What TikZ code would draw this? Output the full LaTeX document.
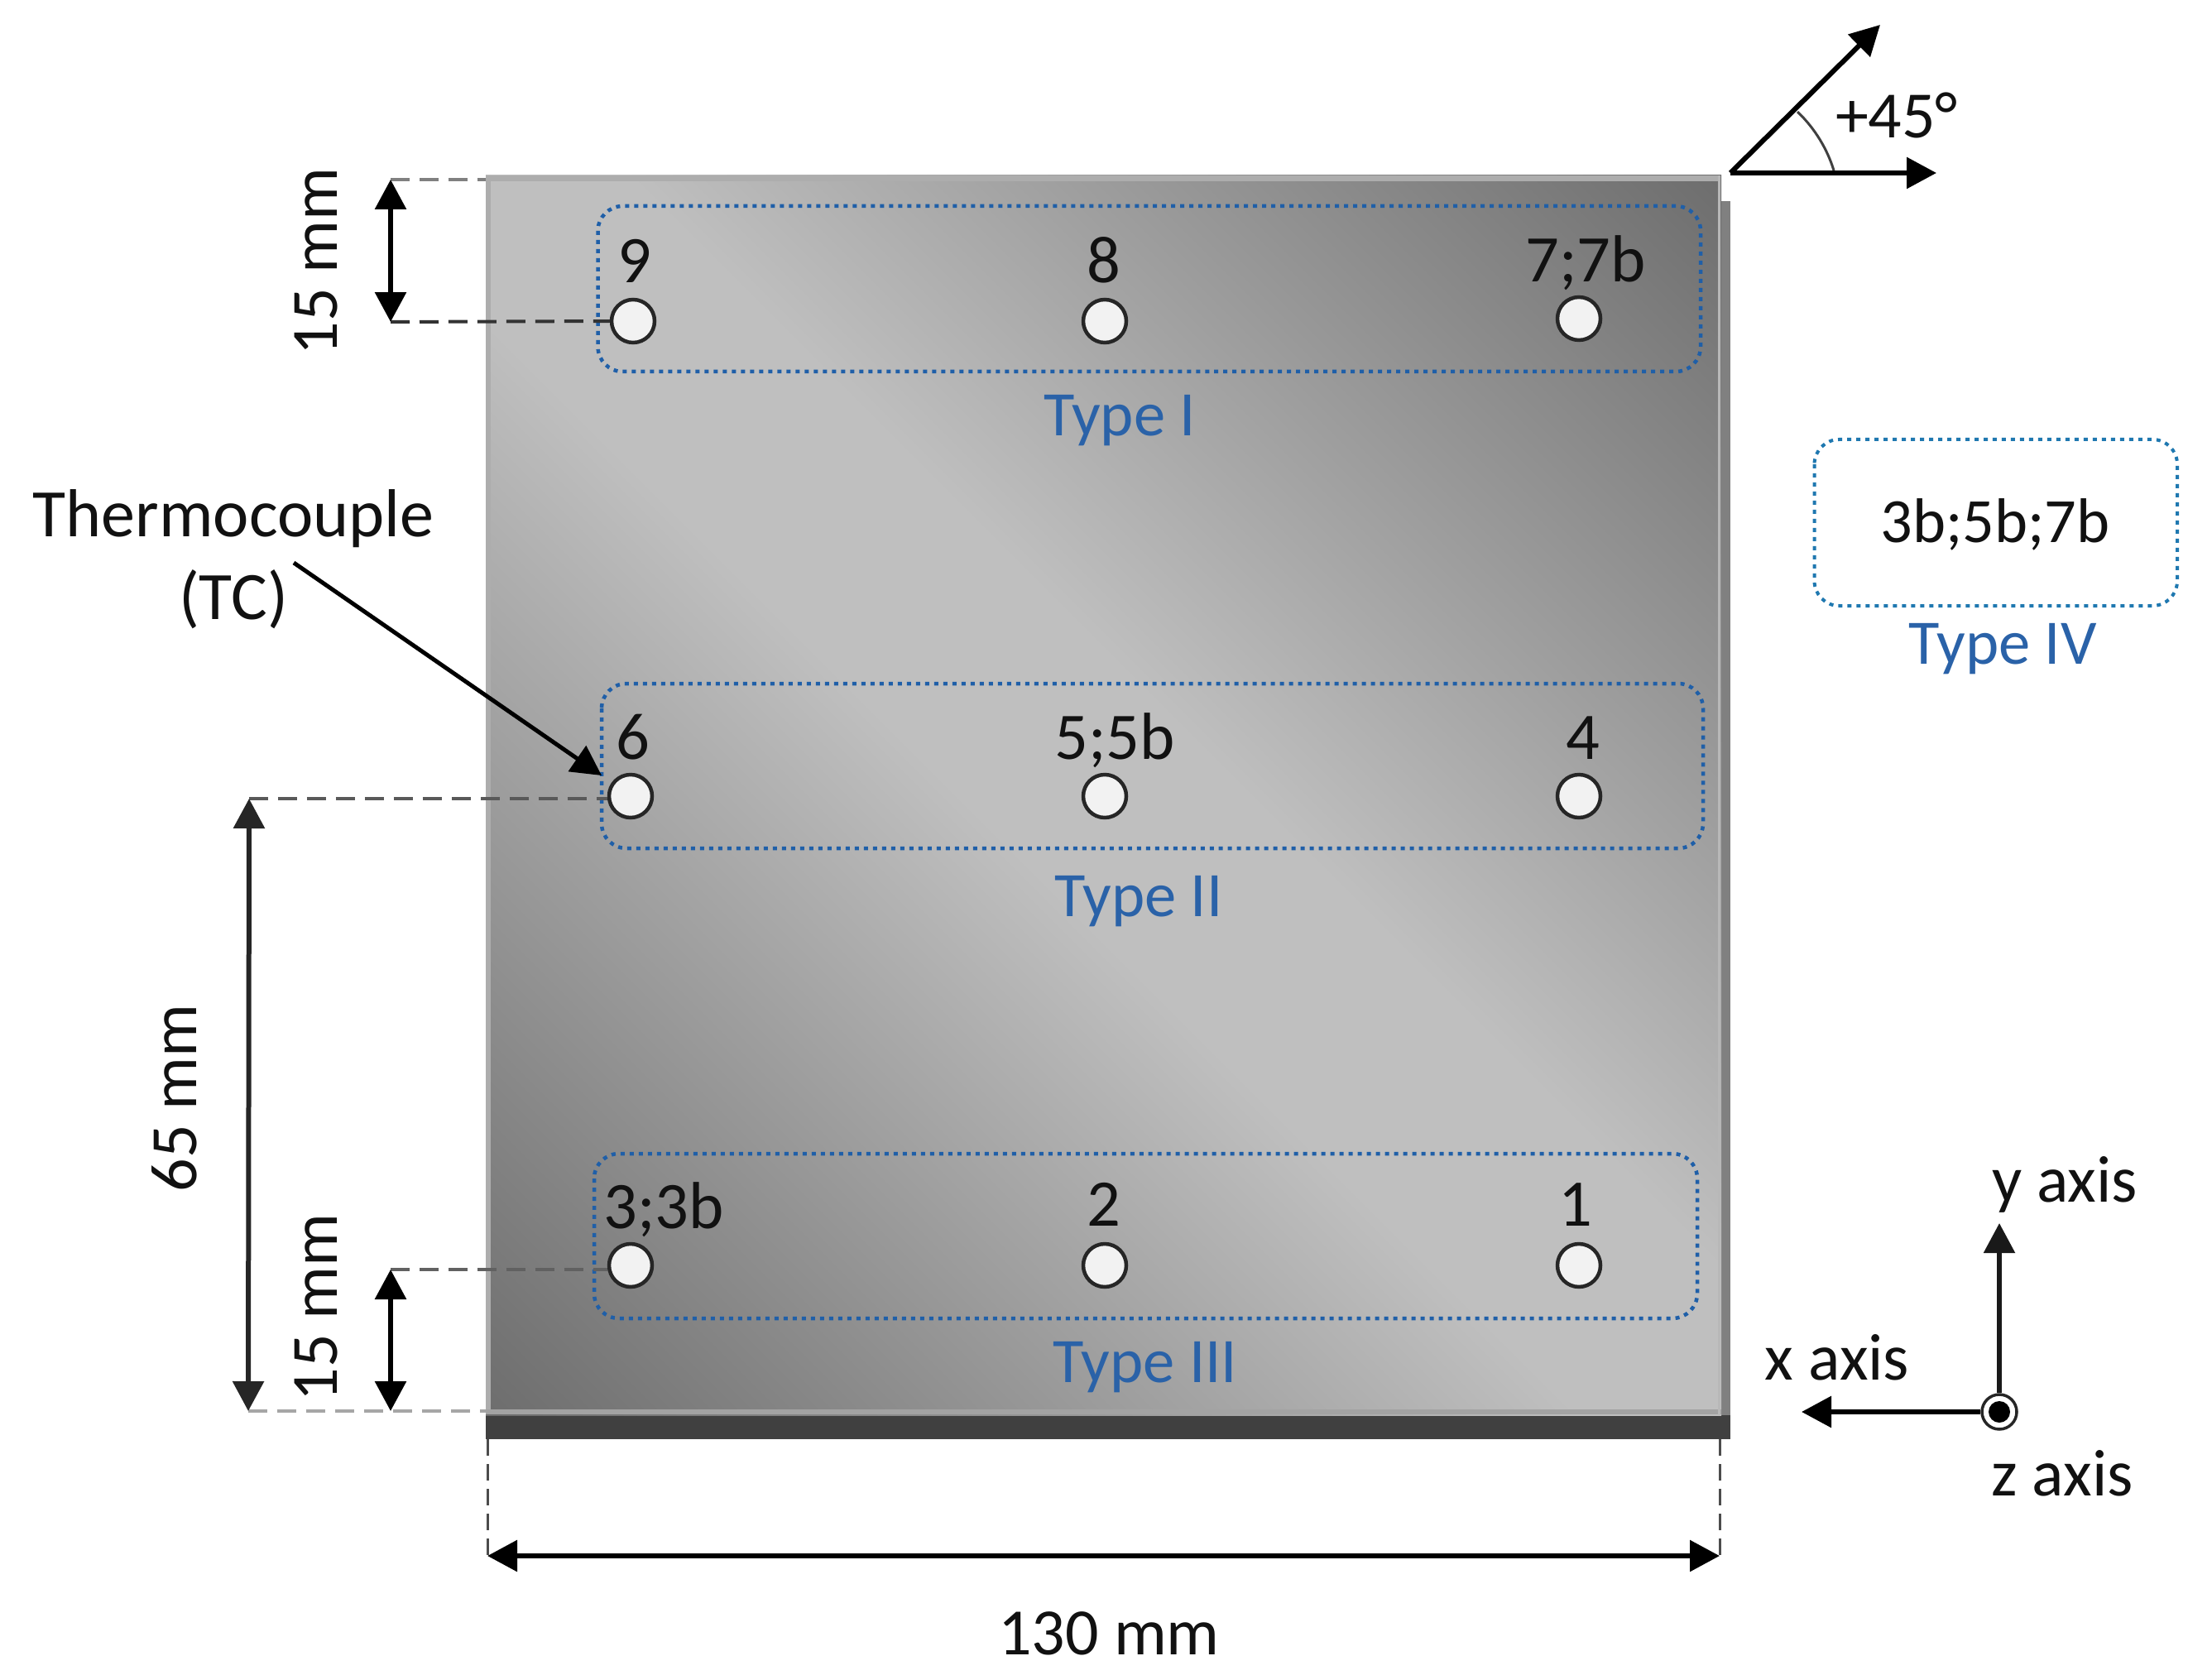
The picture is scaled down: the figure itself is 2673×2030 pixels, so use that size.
\documentclass[tikz,border=0pt]{standalone}
\usepackage{fontspec}
\setmainfont{Carlito}
\usetikzlibrary{arrows.meta}
\definecolor{typeblue}{HTML}{2A62A8}
\definecolor{boxblue}{HTML}{1F5FA8}
\definecolor{boxteal}{HTML}{1F78B0}
\definecolor{ink}{HTML}{111111}
\pgfdeclarehorizontalshading{platefade}{100bp}{
  rgb(0bp)=(.43,.43,.43);
  rgb(14.6bp)=(.43,.43,.43);
  rgb(46bp)=(.75,.75,.75);
  rgb(54bp)=(.75,.75,.75);
  rgb(85.4bp)=(.43,.43,.43);
  rgb(100bp)=(.43,.43,.43)}
\tikzset{
  big/.style={font=\fontsize{46.7}{56}\selectfont,text=ink,inner sep=0pt,anchor=base},
  lab/.style={font=\fontsize{43.4}{52}\selectfont,text=ink,inner sep=0pt,anchor=base},
  holelab/.style={font=\fontsize{45.8}{55}\selectfont,text=ink,inner sep=0pt,anchor=base},
  dim/.style={font=\fontsize{45.5}{54}\selectfont,text=ink,inner sep=0pt,anchor=base},
  typelab/.style={font=\fontsize{43.6}{52}\selectfont,text=typeblue,inner sep=0pt,anchor=base},
  hole/.style={circle,draw=black!85,fill=black!5,line width=.09cm,minimum size=1.04cm,inner sep=0pt},
  zone/.style={draw=boxblue,line width=.09cm,rounded corners=.6cm,dash pattern=on .1cm off .12cm},
  zoneout/.style={draw=boxteal,line width=.08cm,rounded corners=.6cm,dash pattern=on .1cm off .12cm},
  leader/.style={line width=.08cm,dash pattern=on .46cm off .24cm},
  thindash/.style={draw=black!70,line width=.06cm,dash pattern=on .4cm off .2cm},
  tipped/.style={line width=.12cm,-{Triangle[width=.74cm,length=.72cm]}},
  twotip/.style={line width=.12cm,{Triangle[width=.74cm,length=.72cm]}-{Triangle[width=.74cm,length=.72cm]}}
}
\begin{document}
\begin{tikzpicture}[x=.02cm,y=-.02cm]
\useasboundingbox (0,0) rectangle (2673,2030);
% plate
\fill[black!50] (2078,243) rectangle (2091,1739);
\fill[black!75] (587,1710) rectangle (2091,1739);
\shade[shading=platefade,shading angle=45] (587,212) rectangle (2080,1710);
\draw[black!32,line width=.13cm] (590,215.5) -- (2077,215.5);
\draw[black!32,line width=.13cm] (590,212) -- (590,1708);
\draw[black!36,line width=.11cm] (587,1706) -- (2080,1706);
\draw[black!28,line width=.06cm] (2077,212) -- (2077,1710);
% zones
\draw[zone] (722.5,249) rectangle (2055,449);
\draw[zone] (727,826) rectangle (2058,1025);
\draw[zone] (718,1394) rectangle (2051,1593);
\draw[zoneout] (2192.5,531) rectangle (2631,732);
% anchors
\coordinate (topL) at (472,217);
\coordinate (row9L) at (472,389);
\coordinate (row6L) at (301,965);
\coordinate (row3L) at (472,1534);
\coordinate (botA) at (300,1705);
\coordinate (botB) at (472,1705);
\coordinate (botC) at (587,1705);
\coordinate (topC) at (587,217);
\coordinate (widL) at (589,1880);
\coordinate (widR) at (2078,1880);
\coordinate (widLt) at (589,1739);
\coordinate (widRt) at (2078,1739);
\coordinate (ang) at (2091,209);
\coordinate (angA) at (2272,30);
\coordinate (angB) at (2340,209);
\coordinate (arcA) at (2172,135);
\coordinate (arcB) at (2216,206);
\coordinate (yTip) at (2416,1478);
\coordinate (xTip) at (2177,1706);
\coordinate (tcFrom) at (355,680);
\coordinate (tcTo) at (727,937);
% holes
\node[hole] (c9) at (765,388) {};
\node[hole] (c8) at (1335,388) {};
\node[hole] (c7) at (1908,385) {};
\node[hole] (c6) at (762,962) {};
\node[hole] (c5) at (1335,962) {};
\node[hole] (c4) at (1908,962) {};
\node[hole] (c3) at (762,1529) {};
\node[hole] (c2) at (1335,1529) {};
\node[hole] (c1) at (1908,1529) {};
% hole labels
\node[holelab] (l9) at (767,342) {9};
\node[holelab] (l8) at (1334,342) {8};
\node[holelab] (l7) at (1916,341) {7;7b};
\node[holelab] (l6) at (765,917) {6};
\node[holelab] (l5) at (1347,917) {5;5b};
\node[holelab] (l4) at (1913,917) {4};
\node[holelab] (l3) at (802,1484) {3;3b};
\node[holelab] (l2) at (1334,1481) {2};
\node[holelab] (l1) at (1904,1481) {1};
% type labels
\node[typelab] (t1) at (1353,527) {Type I};
\node[typelab] (t2) at (1376,1107) {Type II};
\node[typelab] (t3) at (1384,1670) {Type III};
\node[typelab] (t4) at (2420,802) {Type IV};
\node[lab] (t4v) at (2411,655) {3b;5b;7b};
% leaders
\draw[leader,draw=black!50] (topL) -- (topC);
\draw[leader,draw=black!80] (row9L) -- (c9.west);
\draw[leader,draw=black!65] (row6L) -- (c6.west |- row6L);
\draw[leader,draw=black!62] (row3L) -- (c3.west |- row3L);
\draw[leader,draw=black!35] (botA) -- (botC);
\draw[thindash] (widLt) -- (widL);
\draw[thindash] (widRt) -- (widR);
% dimension arrows
\draw[twotip,draw=black] (topL) -- (row9L);
\draw[twotip,draw=black!85] (row6L) -- (botA);
\draw[twotip,draw=black] (row3L) -- (botB);
\draw[twotip,draw=black] (widL) -- (widR);
\node[dim,rotate=90] (d1) at (407,316) {15 mm};
\node[dim,rotate=90] (d2) at (237,1327) {65 mm};
\node[dim,rotate=90] (d3) at (407,1580) {15 mm};
\node[dim] (d4) at (1340,1999) {130 mm};
% thermocouple
\node[big] (tc1) at (282,648) {Thermocouple};
\node[big] (tc2) at (282,748) {(TC)};
\draw[tipped,line width=.1cm] (tcFrom) -- (tcTo);
% angle
\draw[tipped] (ang) -- (angA);
\draw[tipped] (ang) -- (angB);
\draw[black!75,line width=.06cm] (arcA) .. controls (2193,155) and (2208,180) .. (arcB);
\node[dim] (a45) at (2292,167) {+45°};
% axes
\node[circle,draw=black!85,fill=white,line width=.07cm,minimum size=.84cm,inner sep=0pt] (zc) at (2416,1706) {};
\fill[black] (zc.center) circle (13);
\draw[tipped,line width=.11cm,draw=black!90] (zc.north) -- (yTip);
\draw[tipped] (zc.west) -- (xTip);
\node[dim] (ya) at (2495,1452) {y axis};
\node[dim] (xa) at (2220,1667) {x axis};
\node[dim] (za) at (2492,1807) {z axis};
\end{tikzpicture}
\end{document}
